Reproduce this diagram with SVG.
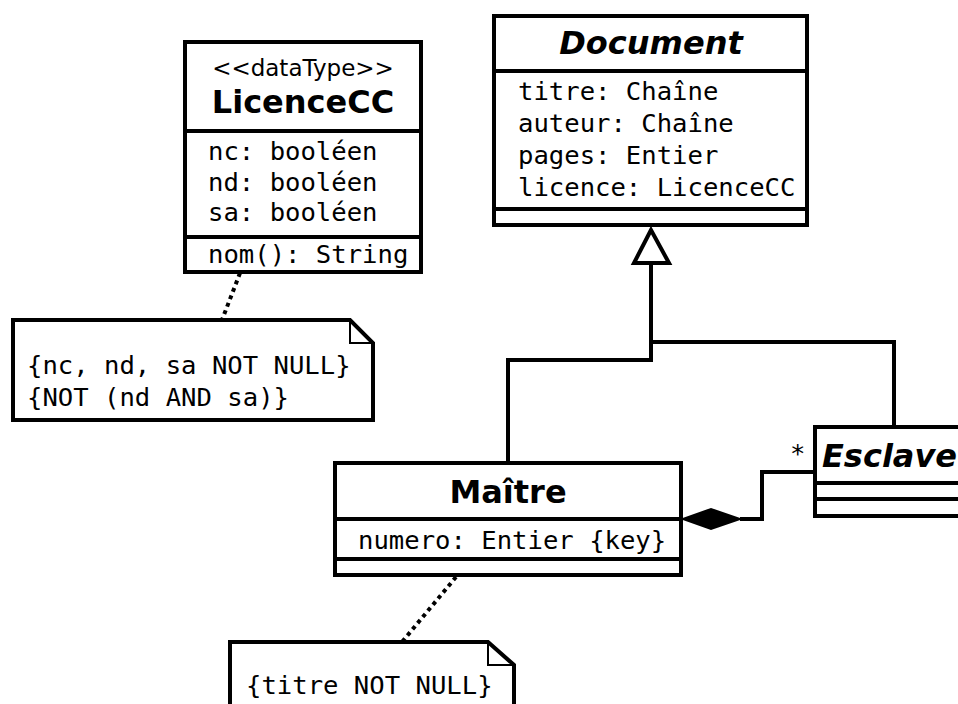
<svg xmlns="http://www.w3.org/2000/svg" width="958" height="704" viewBox="0 0 958 704">
<style>
.box{fill:#fff;stroke:#000;stroke-width:4}
.sep{stroke:#000;stroke-width:4}
.mono{font-family:"DejaVu Sans Mono","Liberation Mono",monospace;font-size:25.6px;fill:#000}
.title{font-family:"DejaVu Sans","Liberation Sans",sans-serif;font-size:32px;font-weight:bold;fill:#000;text-anchor:middle}
.ital{font-style:italic}
.stereo{font-family:"DejaVu Sans","Liberation Sans",sans-serif;font-size:23px;fill:#000;text-anchor:middle}
.conn{fill:none;stroke:#000;stroke-width:4}
.dot{fill:none;stroke:#000;stroke-width:4;stroke-dasharray:4 4}
.fold{fill:none;stroke:#000;stroke-width:2}
</style>
<rect width="958" height="704" fill="#fff"/>
<g id="connectors">
<polyline class="conn" points="651,263 651,342 894,342 894,427"/>
<polyline class="conn" points="651,263 651,360 508,360 508,463"/>
<polygon points="651,230 634,263 669,263" fill="#fff" stroke="#000" stroke-width="4"/>
<polyline class="conn" points="740,519 762,519 762,472 815,472"/>
<polygon points="683,519 711,509 740,519 711,529" fill="#000" stroke="#000" stroke-width="2"/>
<text class="mono" x="790" y="462">*</text>
<line class="dot" x1="240" y1="273" x2="222" y2="320"/>
<line class="dot" x1="456" y1="577" x2="402" y2="642"/>
</g>
<g id="LicenceCC">
<rect class="box" x="185" y="42" width="236" height="230"/>
<line class="sep" x1="185" y1="131" x2="421" y2="131"/>
<line class="sep" x1="185" y1="237" x2="421" y2="237"/>
<text class="stereo" x="303" y="76">&lt;&lt;dataType&gt;&gt;</text>
<text class="title" x="303" y="113">LicenceCC</text>
<text class="mono" x="208" y="160">nc: booléen</text>
<text class="mono" x="208" y="191">nd: booléen</text>
<text class="mono" x="208" y="221">sa: booléen</text>
<text class="mono" x="208" y="263">nom(): String</text>
</g>
<g id="Document">
<rect class="box" x="494" y="16" width="313" height="209"/>
<line class="sep" x1="494" y1="71" x2="807" y2="71"/>
<line class="sep" x1="494" y1="209" x2="807" y2="209"/>
<text class="title ital" x="651" y="54">Document</text>
<text class="mono" x="518" y="100">titre: Chaîne</text>
<text class="mono" x="518" y="132">auteur: Chaîne</text>
<text class="mono" x="518" y="164">pages: Entier</text>
<text class="mono" x="518" y="196">licence: LicenceCC</text>
</g>
<g id="Maitre">
<rect class="box" x="335" y="463" width="346" height="112"/>
<line class="sep" x1="335" y1="519" x2="681" y2="519"/>
<line class="sep" x1="335" y1="559" x2="681" y2="559"/>
<text class="title" x="508" y="503">Maître</text>
<text class="mono" x="358" y="549">numero: Entier {key}</text>
</g>
<g id="Esclave">
<rect class="box" x="815" y="427" width="160" height="89"/>
<line class="sep" x1="815" y1="483" x2="975" y2="483"/>
<line class="sep" x1="815" y1="499" x2="975" y2="499"/>
<text class="title ital" x="822" y="467" style="text-anchor:start">Esclave</text>
</g>
<g id="note1">
<path class="box" d="M13,320 H350 L373,343 V420 H13 Z"/>
<polyline class="fold" points="350,320 350,343 373,343"/>
<text class="mono" x="27" y="374">{nc, nd, sa NOT NULL}</text>
<text class="mono" x="27" y="406">{NOT (nd AND sa)}</text>
</g>
<g id="note2">
<path class="box" d="M230,642 H488 L514,665 V720 H230 Z"/>
<polyline class="fold" points="488,642 488,665 514,665"/>
<text class="mono" x="246" y="694">{titre NOT NULL}</text>
</g>
</svg>
